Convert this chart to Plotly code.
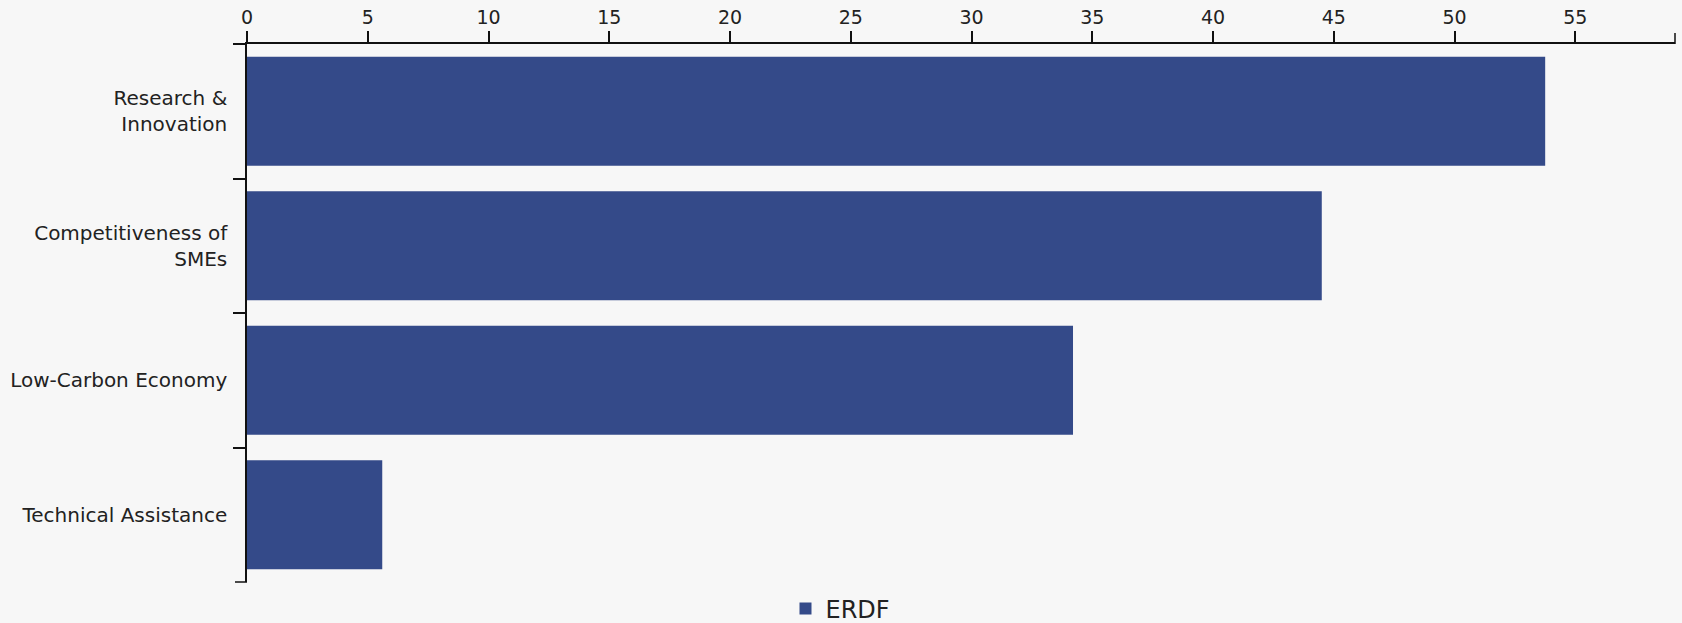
import plotly.graph_objects as go

categories = ["Research &<br>Innovation", "Competitiveness of<br>SMEs", "Low-Carbon Economy", "Technical Assistance"]
erdf_values = [53.75, 44.5, 34.2, 5.6]
x_ticks = [0, 5, 10, 15, 20, 25, 30, 35, 40, 45, 50, 55]
series_name = "ERDF"

FONT = "DejaVu Sans"
TXT = "#222222"
BAR = "#344a89"
BG = "#f7f7f7"
PLOT_W, PLOT_H = 1428, 538

fig = go.Figure()
fig.add_trace(go.Bar(
    y=categories, x=erdf_values, orientation="h", name=series_name,
    marker=dict(color=BAR, line=dict(width=0)), showlegend=True,
))

fig.update_layout(
    width=1682, height=623,
    paper_bgcolor=BG, plot_bgcolor=BG,
    margin=dict(l=247, r=7, t=44, b=41, autoexpand=False),
    bargap=0.19,
    font=dict(family=FONT, size=19, color=TXT),
    showlegend=True,
    legend=dict(orientation="h", xref="container", yref="container",
                x=0.467, y=0.0225, xanchor="left", yanchor="middle",
                font=dict(family=FONT, size=24, color=TXT),
                bgcolor="rgba(0,0,0,0)"),
    xaxis=dict(side="top", range=[0, max(erdf_values) * 1.1], tickvals=x_ticks,
               ticks="outside", ticklen=11, tickwidth=1.5, tickcolor="#111",
               showline=True, linecolor="#111", linewidth=1.5,
               showgrid=False, zeroline=False, automargin=False,
               tickfont=dict(family=FONT, size=19, color=TXT)),
    yaxis=dict(type="category", autorange="reversed", tickson="boundaries",
               ticks="outside", ticklen=12, tickwidth=1.5, tickcolor="#111",
               showline=True, linecolor="#111", linewidth=1.5,
               showgrid=False, zeroline=False, automargin=False,
               ticklabelstandoff=14,
               tickfont=dict(family=FONT, size=20, color=TXT)),
    shapes=[
        dict(type="line", xref="paper", yref="paper", x0=1, x1=1, y0=1, y1=1 + 11 / PLOT_H,
             line=dict(color="#111", width=1.5)),
        dict(type="line", xref="paper", yref="paper", x0=-12 / PLOT_W, x1=0, y0=0, y1=0,
             line=dict(color="#111", width=1.5)),
    ],
)

fig.write_html("out.html", config={"displayModeBar": False},
               post_script="document.body.style.margin='0';document.body.style.background='#f7f7f7';")
